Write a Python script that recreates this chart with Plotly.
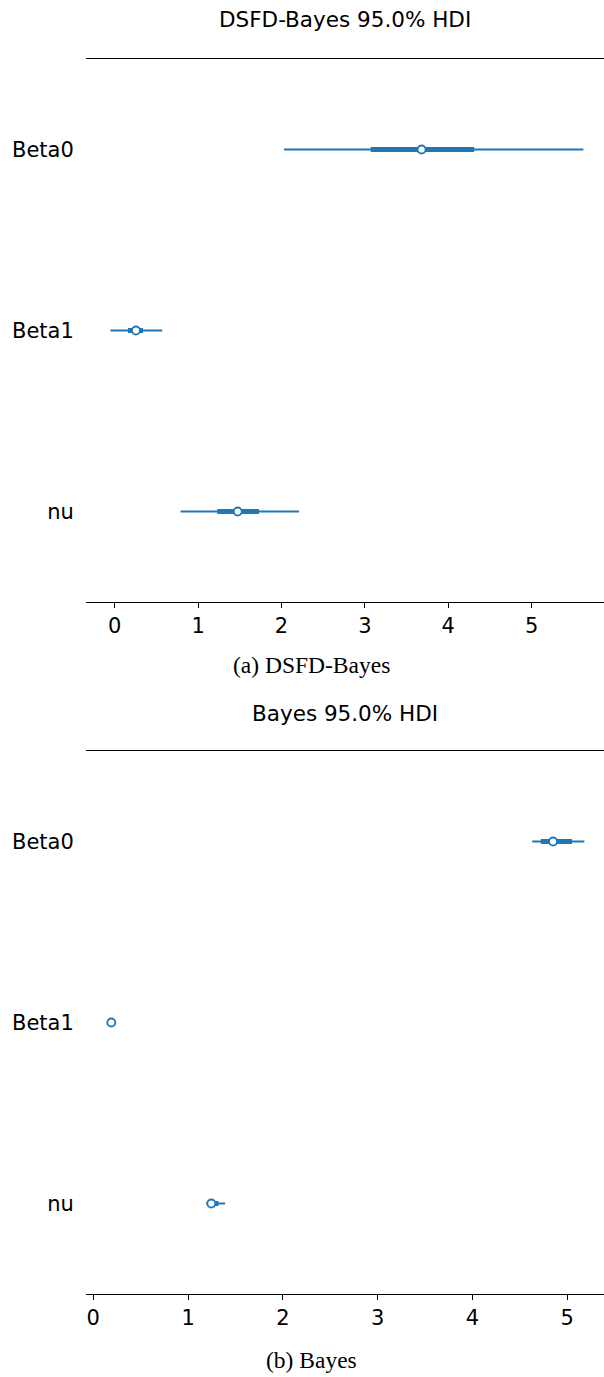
import plotly.graph_objects as go

W, H = 604, 1377
BLUE = "#1f77b4"

params = ["Beta0", "Beta1", "nu"]
row_pos = [2, 1, 0]

# Panel (a) DSFD-Bayes
a_hdi_low = [2.03, -0.05, 0.79]
a_hdi_high = [5.62, 0.57, 2.21]
a_iqr_low = [3.07, 0.16, 1.23]
a_iqr_high = [4.31, 0.34, 1.73]
a_median = [3.68, 0.255, 1.475]

# Panel (b) Bayes
b_hdi_low = [4.63, 0.17, 1.19]
b_hdi_high = [5.18, 0.21, 1.39]
b_iqr_low = [4.72, 0.18, 1.22]
b_iqr_high = [5.05, 0.20, 1.32]
b_median = [4.85, 0.19, 1.245]

xticks = [0, 1, 2, 3, 4, 5]

panels = [
    dict(title="DSFD-Bayes 95.0% HDI", caption="(a) DSFD-Bayes",
         lo=a_hdi_low, hi=a_hdi_high, qlo=a_iqr_low, qhi=a_iqr_high, med=a_median,
         xrange=[-0.344, 5.867], top=59, bottom=602, title_y=20, cap_y=665),
    dict(title="Bayes 95.0% HDI", caption="(b) Bayes",
         lo=b_hdi_low, hi=b_hdi_high, qlo=b_iqr_low, qhi=b_iqr_high, med=b_median,
         xrange=[-0.077, 5.387], top=751, bottom=1294, title_y=713, cap_y=1360),
]

fig = go.Figure()


def seg(lo, hi):
    xs, ys = [], []
    for l, h, y in zip(lo, hi, row_pos):
        xs += [l, h, None]
        ys += [y, y, None]
    return xs, ys


annotations = []
for i, p in enumerate(panels):
    xa = "x" if i == 0 else "x2"
    ya = "y" if i == 0 else "y2"
    xs, ys = seg(p["lo"], p["hi"])
    fig.add_trace(go.Scatter(x=xs, y=ys, mode="lines", line=dict(color=BLUE, width=2),
                             xaxis=xa, yaxis=ya, showlegend=False, hoverinfo="skip"))
    xs, ys = seg(p["qlo"], p["qhi"])
    fig.add_trace(go.Scatter(x=xs, y=ys, mode="lines", line=dict(color=BLUE, width=5),
                             xaxis=xa, yaxis=ya, showlegend=False, hoverinfo="skip"))
    fig.add_trace(go.Scatter(x=p["med"], y=row_pos, mode="markers",
                             marker=dict(color="white", size=8, line=dict(color=BLUE, width=1.8)),
                             xaxis=xa, yaxis=ya, showlegend=False))
    annotations.append(dict(text=p["title"], x=(86 + 604) / 2 / W, y=1 - p["title_y"] / H,
                            xref="paper", yref="paper", xanchor="center", yanchor="middle",
                            showarrow=False, font=dict(family="DejaVu Sans", size=21.5, color="black")))
    annotations.append(dict(text=p["caption"], x=311 / W, y=1 - p["cap_y"] / H,
                            xref="paper", yref="paper", xanchor="center", yanchor="middle",
                            showarrow=False, font=dict(family="Liberation Serif", size=23.5, color="black")))

axis_common_x = dict(showline=True, mirror=True, linecolor="black", linewidth=1.2,
                     ticks="outside", ticklen=5, tickwidth=1.2, tickcolor="black",
                     tickvals=xticks, ticktext=[str(t) for t in xticks],
                     showgrid=False, zeroline=False,
                     tickfont=dict(family="DejaVu Sans", size=21, color="black"))
axis_common_y = dict(showline=False, showgrid=False, zeroline=False, range=[-0.5, 2.5],
                     tickvals=row_pos, ticktext=params, ticks="outside", ticklen=7,
                     tickcolor="rgba(0,0,0,0)",
                     tickfont=dict(family="DejaVu Sans", size=21, color="black"))

p0, p1 = panels
fig.update_layout(
    width=W, height=H, margin=dict(l=0, r=0, t=0, b=0),
    paper_bgcolor="white", plot_bgcolor="white",
    xaxis=dict(axis_common_x, domain=[86 / W, 1.0], range=p0["xrange"], anchor="y"),
    yaxis=dict(axis_common_y, domain=[1 - p0["bottom"] / H, 1 - p0["top"] / H], anchor="x"),
    xaxis2=dict(axis_common_x, domain=[86 / W, 1.0], range=p1["xrange"], anchor="y2"),
    yaxis2=dict(axis_common_y, domain=[1 - p1["bottom"] / H, 1 - p1["top"] / H], anchor="x2"),
    annotations=annotations,
)

fig.write_html("out.html")
